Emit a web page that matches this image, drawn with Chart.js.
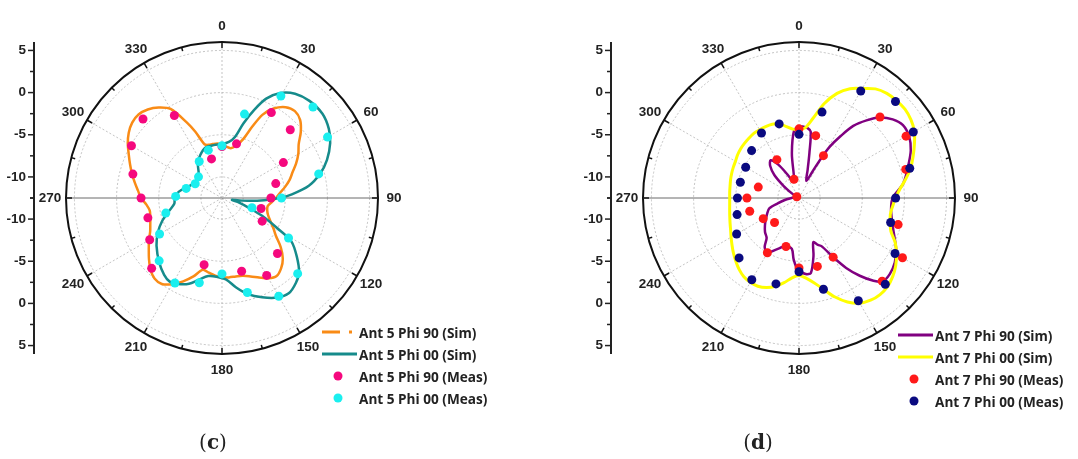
<!DOCTYPE html>
<html>
<head>
<meta charset="utf-8">
<title>Ant 5 / Ant 7 radiation patterns</title>
<script src="https://cdn.jsdelivr.net/npm/chart.js@4.4.1/dist/chart.umd.min.js"></script>
<style>
    html, body { margin: 0; padding: 0; background: #fff; }
    body { width: 1078px; height: 459px; position: relative; overflow: hidden; }
    canvas { position: absolute; top: 0; }
    #polarC { left: 0; }
    #polarD { left: 539px; }
    .legend { position: absolute; font: bold 13.6px 'Open Sans', sans-serif; color: #222; }
    .legend .row { height: 22px; display: flex; align-items: center; white-space: nowrap; }
    .legend svg { width: 37px; height: 10px; flex: none; }
    .caption { position: absolute; top: 430px; font: 20px 'DejaVu Serif', serif; color: #222; transform: translateX(-50%); }
</style>
</head>
<body>
<canvas id="polarC" width="539" height="459"></canvas>
<canvas id="polarD" width="539" height="459"></canvas>
<div class="legend" id="legendC" style="left:322px; top:321px"></div>
<div class="legend" id="legendD" style="left:898px; top:324px"></div>
<div class="caption" style="left:213px">(<b>c</b>)</div>
<div class="caption" style="left:758px">(<b>d</b>)</div>

<script>
/**
 * Polar axes (angles in degrees, radius in dB)
 */
const angleTickLabels = [0, 30, 60, 90, 120, 150, 180, 210, 240, 270, 300, 330];
const radialMajorTicks = [5, 0, -5, -10];
const radialMinorTicks = [2.5, -2.5, -7.5, -12.5];
const radialGridValues = [-12.5, -10, -5, 0, 5, 6];
const radialMin = -12.5;
const radialMax = 6;

// one category per degree, clockwise from the top
const degrees = Array.from({ length: 360 }, (_, i) => i);

/**
 * (c) Ant 5
 */
const ant5Phi90SimAngles = [0, 5, 10, 15, 20, 23, 26, 30, 35, 40, 45, 50, 55, 60, 65, 70, 75, 80, 85, 90,
    95, 100, 105, 110, 115, 120, 125, 130, 135, 140, 145, 150, 155, 160, 165, 170, 175, 180, 185, 190,
    195, 200, 205, 210, 215, 220, 225, 230, 235, 240, 245, 250, 255, 260, 265, 270, 275, 280, 285, 290,
    295, 300, 305, 310, 315, 320, 325, 330, 335, 338, 342, 346, 350, 355];
const ant5Phi90SimDb = [-6.1, -6.4, -6.5, -6.1, -5.0, -3.3, -1.5, -0.25, 0.65, 0.95, 0.6, -0.3, -1.4, -2.05, -2.8, -3.6, -4.2, -4.9, -5.6, -6.1,
    -6.6, -7.0, -6.95, -6.7, -6.2, -5.5, -4.7, -3.4, -2.3, -1.6, -1.2, -1.5, -2.1, -2.6, -2.95, -3.05, -3.05, -3.1, -3.25, -3.5,
    -3.7, -2.6, -1.6, -0.7, -0.05, -0.05, -0.5, -1.2, -1.9, -2.5, -3.1, -3.45, -3.7, -3.8, -3.5, -2.9, -2.5, -2.0, -1.45, -0.9,
    -0.3, 0.4, 1.0, 1.4, 1.5, 1.2, 0.6, -0.3, -2.6, -4.0, -5.8, -6.0, -6.0, -6.0];

const ant5Phi00SimAngles = [0, 7, 12, 16, 20, 24, 29, 35, 42, 50, 57, 63, 70, 76, 82, 87, 90, 93, 96, 99,
    101, 105, 110, 114, 119, 122, 128, 134, 139, 145, 151, 158, 165, 171, 177, 184, 190, 196, 201, 207,
    212, 217, 224, 234, 242, 249, 256, 263, 270, 278, 289, 301, 316, 325, 333, 342, 351];
const ant5Phi00SimDb = [-6.1, -5.8, -5.1, -3.3, -1.4, 0.4, 1.75, 2.6, 3.0, 3.05, 2.6, 1.9, 0.75, -0.5, -2.1, -4.2, -5.7, -7.5, -9.3, -10.9,
    -11.3, -10.4, -9.1, -7.3, -4.8, -2.8, -1.25, 0.2, 0.85, 1.3, 1.0, 0.2, -0.7, -1.75, -2.8, -3.15, -3.1, -2.4, -1.6, -1.05,
    -0.8, -1.1, -1.8, -2.9, -3.9, -4.9, -6.0, -6.8, -6.9, -7.3, -8.3, -8.8, -8.5, -7.5, -6.8, -6.2, -6.15];

const ant5Phi90MeasAngles = [0, 15, 30, 45, 60, 75, 90, 105, 120, 135, 150, 165, 195, 225, 240, 255, 270, 285, 300, 315, 330, 345];
const ant5Phi90MeasDb = [-6.4, -5.85, -0.8, -1.05, -4.1, -5.9, -6.7, -7.7, -7.0, -3.2, -1.9, -3.5, -4.3, -0.7, -2.6, -3.4, -2.9, -1.56, -0.1, 0.75, -1.2, -7.7];

const ant5Phi00MeasAngles = [0, 15, 30, 45, 60, 76, 90, 108, 121, 135, 150, 165, 180, 195, 209, 225, 240, 255, 272, 285, 298, 312, 328, 344];
const ant5Phi00MeasDb = [-6.3, -2.2, 1.47, 2.76, 1.95, -0.68, -5.45, -8.76, -3.3, 0.19, 0.96, -0.9, -3.5, -2.1, -0.98, -1.96, -3.95, -5.6, -7.0, -8.1, -8.9, -8.75, -7.4, -6.6];

/**
 * (d) Ant 7
 */
const ant7Phi90SimAngles = [0, 3, 7, 10, 13, 17, 23, 27, 29, 31, 34, 37, 41, 45, 50, 55, 61, 67, 74, 82,
    90, 97, 105, 112, 118, 124, 130, 135, 138, 142, 146, 150, 155, 158, 162, 166, 171, 175, 181, 185,
    188, 195, 204, 210, 215, 219, 225, 231, 237, 244, 251, 256, 262, 268, 275, 285, 295, 303, 308, 313,
    318, 323, 328, 333, 338, 343, 347, 351, 356];
const ant7Phi90SimDb = [-4.1, -4.0, -4.15, -4.5, -7.0, -9.0, -10.3, -9.0, -7.2, -5.4, -3.6, -1.8, -0.3, 1.0, 2.0, 2.55, 2.45, 1.9, 0.95, 0.0,
    -1.4, -1.5, -1.05, -0.3, 0.55, 1.2, 1.55, 1.5, 0.7, -0.8, -2.5, -4.4, -6.2, -6.5, -7.0, -5.4, -3.5, -3.45, -4.0, -5.2,
    -6.4, -6.6, -5.8, -5.0, -5.4, -6.4, -6.8, -7.3, -7.8, -8.3, -8.8, -9.9, -10.8, -11.5, -11.9, -12.2, -12.2, -11.5, -10.2, -8.5,
    -7.4, -6.9, -7.8, -9.2, -10.2, -10.5, -9.8, -7.1, -4.4];

const ant7Phi00SimAngles = [0, 5, 10, 15, 20, 25, 30, 35, 40, 45, 50, 55, 60, 65, 70, 75, 80, 85, 90, 95,
    100, 105, 110, 115, 120, 125, 130, 135, 140, 145, 150, 155, 160, 165, 170, 175, 180, 185, 190, 195,
    200, 205, 210, 215, 220, 225, 230, 235, 240, 245, 250, 255, 260, 265, 270, 275, 280, 285, 290, 295,
    300, 305, 310, 315, 320, 325, 330, 335, 340, 345, 350, 355];
const ant7Phi00SimDb = [-4.4, -4.15, -2.9, -0.9, 0.7, 1.8, 2.5, 3.3, 3.7, 3.85, 3.9, 3.7, 3.3, 2.6, 1.9, 1.2, 0.35, -0.5, -1.05, -1.35,
    -1.5, -1.3, -0.9, 0.1, 0.85, 1.5, 2.0, 2.35, 2.45, 2.3, 1.9, 1.1, 0.0, -1.3, -2.3, -2.95, -3.3, -3.0, -2.3, -1.65,
    -1.2, -0.95, -0.95, -1.1, -1.45, -1.9, -2.35, -2.8, -3.2, -3.55, -3.8, -4.0, -4.15, -4.25, -4.28, -4.25, -4.2, -4.1, -4.0, -3.9,
    -3.8, -3.6, -3.45, -3.35, -3.25, -3.15, -3.15, -3.15, -3.2, -3.37, -3.9, -4.3];

const ant7Phi90MeasAngles = [0, 15, 30, 45, 60, 75, 105, 120, 135, 150, 165, 180, 195, 210, 225, 240, 255, 270, 285, 300, 330, 345];
const ant7Phi90MeasDb = [-4.3, -4.85, -6.7, 1.08, 2.16, 0.6, -0.33, 1.67, 1.45, -4.4, -4.1, -4.2, -6.55, -5.0, -8.4, -7.6, -6.45, -6.33, -7.5, -12.2, -7.25, -10.2];

const ant7Phi00MeasAngles = [0, 15, 30, 45, 60, 75, 90, 105, 120, 135, 150, 165, 180, 195, 210, 225, 240, 255, 270, 285, 300, 315, 330, 345];
const ant7Phi00MeasDb = [-4.95, -1.95, 2.15, 3.68, 3.15, 1.1, -1.04, -1.25, 0.65, 1.97, 1.57, -1.3, -3.75, -1.95, -1.3, -2.45, -3.96, -4.9, -5.2, -5.3, -5.2, -4.55, -3.6, -3.4];

/**
 * Puts the (angle, dB) pairs on the 360 degree categories, null everywhere else
 */
function toRadarData(angles, values) {
    const data = new Array(360).fill(null);
    angles.forEach((a, i) => { data[a % 360] = values[i]; });
    return data;
}

/**
 * Draws the outer ring ticks, angle labels and the left dB axis
 */
const polarFrame = {
    id: 'polarFrame',
    afterDraw(chart) {
        const r = chart.scales.r;
        const ctx = chart.ctx;
        const outer = r.drawingArea;
        ctx.save();

        // ticks on the outer ring, pointing inward
        ctx.strokeStyle = '#111';
        ctx.lineWidth = 1.5;
        for (let a = 0; a < 360; a += 15) {
            const len = a % 30 === 0 ? 6 : 4;
            const p1 = r.getPointPosition(a, outer);
            const p2 = r.getPointPosition(a, outer - len);
            ctx.beginPath();
            ctx.moveTo(p1.x, p1.y);
            ctx.lineTo(p2.x, p2.y);
            ctx.stroke();
        }

        // angle labels
        ctx.fillStyle = '#222';
        ctx.font = 'bold 13.5px "Liberation Sans", Arial, sans-serif';
        ctx.textAlign = 'center';
        ctx.textBaseline = 'middle';
        angleTickLabels.forEach(a => {
            const p = r.getPointPosition(a, outer + 16);
            ctx.fillText(String(a), p.x, p.y);
        });

        // left radial axis, mirrored above and below the centre
        const x = r.xCenter - 188;
        const top = r.yCenter - r.getDistanceFromCenterForValue(radialMax);
        const bottom = r.yCenter + r.getDistanceFromCenterForValue(radialMax);
        ctx.strokeStyle = '#222';
        ctx.lineWidth = 2;
        ctx.beginPath();
        ctx.moveTo(x, top);
        ctx.lineTo(x, bottom);
        ctx.stroke();

        ctx.lineWidth = 1.5;
        ctx.textAlign = 'right';
        [-1, 1].forEach(side => {
            radialMajorTicks.forEach(v => {
                const y = r.yCenter + side * r.getDistanceFromCenterForValue(v);
                ctx.beginPath();
                ctx.moveTo(x - 6, y);
                ctx.lineTo(x, y);
                ctx.stroke();
                ctx.fillText(String(v), x - 8, y);
            });
            radialMinorTicks.forEach(v => {
                const y = r.yCenter + side * r.getDistanceFromCenterForValue(v);
                ctx.beginPath();
                ctx.moveTo(x - 4, y);
                ctx.lineTo(x, y);
                ctx.stroke();
            });
        });
        ctx.restore();
    }
};

/**
 * One polar plot as a Chart.js radar chart
 */
function makePolar(canvasId, series, padding) {
    const datasets = series.map(s => {
        const base = {
            label: s.label,
            data: toRadarData(s.angles, s.values),
            borderColor: s.color,
            backgroundColor: s.color,
            fill: false,
            order: s.order
        };
        if (s.kind === 'point') {
            return Object.assign(base, {
                showLine: false,
                pointRadius: 4.5,
                pointBackgroundColor: s.color,
                pointBorderWidth: 0
            });
        }
        return Object.assign(base, {
            borderWidth: s.width,
            pointRadius: 0,
            spanGaps: true,
            tension: 0.3
        });
    });

    return new Chart(document.getElementById(canvasId), {
        type: 'radar',
        data: { labels: degrees, datasets: datasets },
        options: {
            responsive: false,
            animation: false,
            layout: { padding: padding },
            plugins: {
                legend: { display: false },
                tooltip: { enabled: false }
            },
            scales: {
                r: {
                    min: radialMin,
                    max: radialMax,
                    startAngle: 0,
                    afterBuildTicks: scale => {
                        scale.ticks = radialGridValues.map(v => ({ value: v }));
                    },
                    ticks: { display: false },
                    pointLabels: { display: false },
                    grid: {
                        circular: true,
                        color: c => (c.tick && c.tick.value === radialMax) ? '#111' : '#b5b5b5',
                        lineWidth: c => (c.tick && c.tick.value === radialMax) ? 2 : 0.8
                    },
                    border: {
                        dash: c => (c.tick && c.tick.value === radialMax) ? [] : [2, 2]
                    },
                    angleLines: {
                        display: true,
                        color: c => (c.index === 90 || c.index === 270) ? '#6a6a6a' : '#b5b5b5',
                        lineWidth: c => c.index % 30 === 0 ? ((c.index === 90 || c.index === 270) ? 1 : 0.8) : 0,
                        borderDash: c => (c.index === 90 || c.index === 270) ? [] : [2, 2]
                    }
                }
            }
        },
        plugins: [polarFrame]
    });
}

/**
 * HTML legend next to each plot
 */
function buildLegend(containerId, series) {
    const box = document.getElementById(containerId);
    series.forEach(s => {
        let sample;
        if (s.kind === 'point') {
            sample = `<circle cx="16" cy="5" r="4.5" fill="${s.color}"/>`;
        } else if (s.kind === 'dashdot') {
            sample = `<line x1="0" y1="5" x2="35" y2="5" stroke="${s.color}" stroke-width="3" stroke-dasharray="18 9 3 20"/>`;
        } else {
            sample = `<line x1="0" y1="5" x2="35" y2="5" stroke="${s.color}" stroke-width="3"/>`;
        }
        const row = document.createElement('div');
        row.className = 'row';
        row.innerHTML = `<svg viewBox="0 0 37 10">${sample}</svg><span>${s.label}</span>`;
        box.appendChild(row);
    });
}

const seriesC = [
    { label: 'Ant 5 Phi 90 (Sim)', angles: ant5Phi90SimAngles, values: ant5Phi90SimDb, color: '#F98B16', kind: 'dashdot', width: 2.5, order: 3 },
    { label: 'Ant 5 Phi 00 (Sim)', angles: ant5Phi00SimAngles, values: ant5Phi00SimDb, color: '#168B8B', kind: 'line', width: 2.5, order: 2 },
    { label: 'Ant 5 Phi 90 (Meas)', angles: ant5Phi90MeasAngles, values: ant5Phi90MeasDb, color: '#F5087E', kind: 'point', order: 1 },
    { label: 'Ant 5 Phi 00 (Meas)', angles: ant5Phi00MeasAngles, values: ant5Phi00MeasDb, color: '#1AEFEF', kind: 'point', order: 0 }
];

const seriesD = [
    { label: 'Ant 7 Phi 90 (Sim)', angles: ant7Phi90SimAngles, values: ant7Phi90SimDb, color: '#800080', kind: 'line', width: 2.5, order: 3 },
    { label: 'Ant 7 Phi 00 (Sim)', angles: ant7Phi00SimAngles, values: ant7Phi00SimDb, color: '#FFFF00', kind: 'line', width: 3, order: 2 },
    { label: 'Ant 7 Phi 90 (Meas)', angles: ant7Phi90MeasAngles, values: ant7Phi90MeasDb, color: '#FF1A1A', kind: 'point', order: 1 },
    { label: 'Ant 7 Phi 00 (Meas)', angles: ant7Phi00MeasAngles, values: ant7Phi00MeasDb, color: '#0A0A80', kind: 'point', order: 0 }
];

makePolar('polarC', seriesC, { left: 66, right: 161, top: 42, bottom: 105 });
makePolar('polarD', seriesD, { left: 104, right: 123, top: 42, bottom: 105 });
buildLegend('legendC', seriesC);
buildLegend('legendD', seriesD);
</script>
</body>
</html>
